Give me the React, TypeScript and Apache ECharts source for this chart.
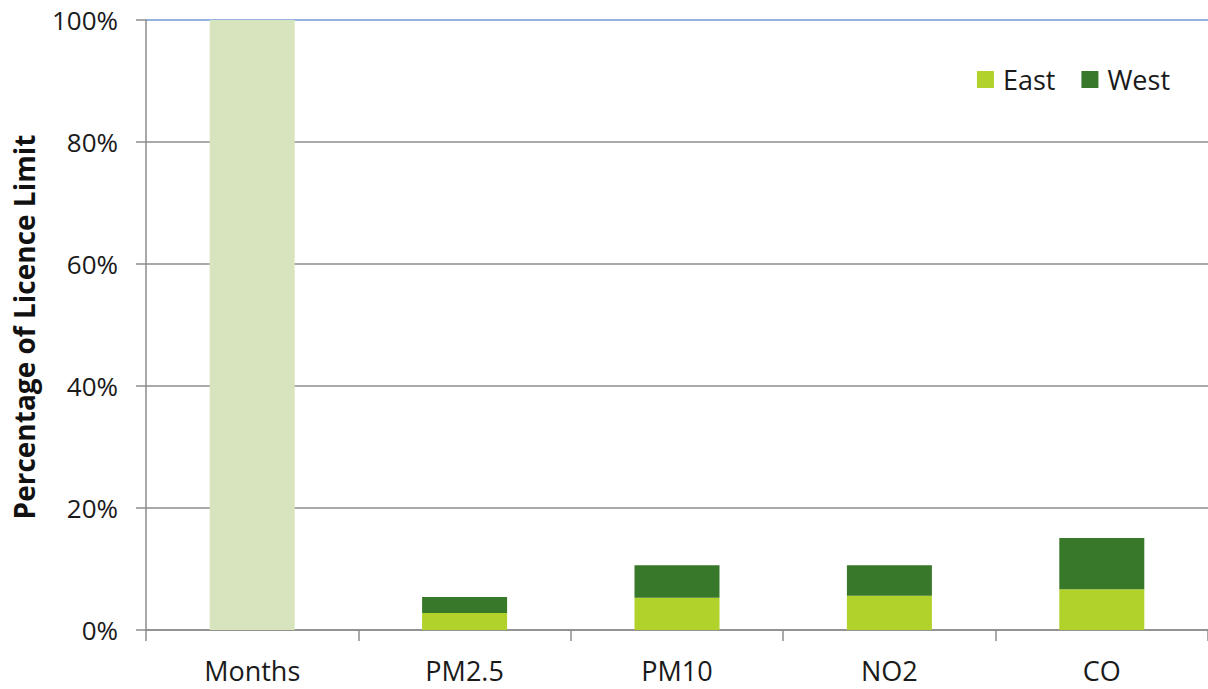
import React, { useEffect, useRef } from "react";
import * as echarts from "echarts";

const categories = ["Months", "PM2.5", "PM10", "NO2", "CO"];
const monthsValues: (number | string)[] = [100, "-", "-", "-", "-"];
const eastValues: (number | string)[] = ["-", 2.8, 5.3, 5.6, 6.7];
const westValues: (number | string)[] = ["-", 2.6, 5.3, 5.0, 8.4];
const yTicks = [0, 20, 40, 60, 80, 100];

const FONT = "'Open Sans', sans-serif";

export default function App() {
  const ref = useRef<HTMLDivElement>(null);
  useEffect(() => {
    if (!ref.current) return;
    const chart = echarts.init(ref.current, null, { renderer: "svg" });
    chart.setOption({
      animation: false,
      backgroundColor: "#ffffff",
      textStyle: { fontFamily: FONT },
      grid: { left: 146, right: 0, top: 20, bottom: 59, containLabel: false },
      legend: {
        data: ["East", "West"],
        right: 33,
        top: 61,
        itemWidth: 17,
        itemHeight: 17,
        itemGap: 26,
        icon: "rect",
        textStyle: { fontSize: 27, color: "#1a1a1a", fontFamily: FONT, padding: [0, 0, 0, 4] },
      },
      xAxis: {
        type: "category",
        data: categories,
        axisLine: { show: true, lineStyle: { color: "#8c8c8c", width: 1.5 } },
        axisTick: { show: true, alignWithLabel: false, length: 11, lineStyle: { color: "#8c8c8c", width: 1.5 } },
        axisLabel: { fontSize: 27, color: "#1a1a1a", margin: 27, fontFamily: FONT },
      },
      yAxis: {
        type: "value",
        min: yTicks[0],
        max: yTicks[yTicks.length - 1],
        interval: 20,
        axisLine: { show: true, lineStyle: { color: "#8c8c8c", width: 1.5 } },
        axisTick: { show: true, length: 10, lineStyle: { color: "#8c8c8c", width: 1.5 } },
        axisLabel: {
          formatter: "{value}%",
          fontSize: 26,
          color: "#1a1a1a",
          margin: 28,
          fontFamily: FONT,
        },
        splitLine: {
          show: true,
          lineStyle: {
            color: ["#8c8c8c", "#8c8c8c", "#8c8c8c", "#8c8c8c", "#8c8c8c", "#6f98d6"],
            width: 1.5,
          },
        },
      },
      series: [
        {
          name: "Months",
          type: "bar",
          stack: "total",
          data: monthsValues,
          barWidth: 85,
          itemStyle: { color: "#d7e4bd" },
        },
        {
          name: "East",
          type: "bar",
          stack: "total",
          data: eastValues,
          barWidth: 85,
          itemStyle: { color: "#b0d22a" },
        },
        {
          name: "West",
          type: "bar",
          stack: "total",
          data: westValues,
          barWidth: 85,
          itemStyle: { color: "#38782a" },
        },
      ],
      graphic: [
        {
          type: "text",
          x: 24,
          y: 327,
          rotation: Math.PI / 2,
          style: {
            text: "Percentage of Licence Limit",
            fontFamily: FONT,
            fontWeight: "bold",
            fontSize: 28,
            fill: "#111111",
            textAlign: "center",
            textVerticalAlign: "middle",
          },
        },
      ],
    });
    return () => chart.dispose();
  }, []);
  return (
    <div
      ref={ref}
      style={{ position: "fixed", left: 0, top: 0, width: 1208, height: 689 }}
    />
  );
}
